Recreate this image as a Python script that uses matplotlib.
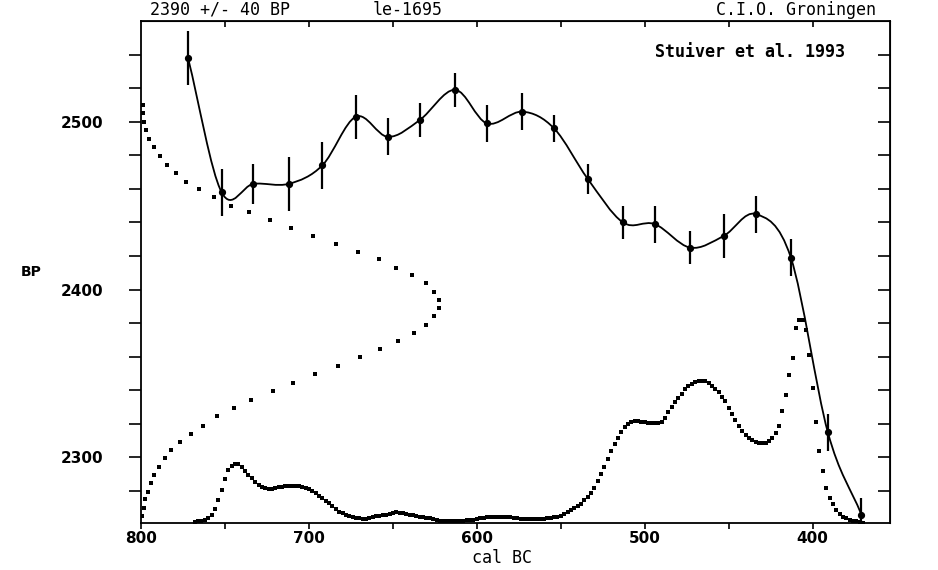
import numpy as np
import matplotlib.pyplot as plt
from matplotlib.path import Path
from matplotlib.patches import PathPatch
from matplotlib.ticker import NullFormatter

# calibration curve points (Stuiver et al. 1993)
cal_bc = [772, 752, 733, 712, 692, 672, 653, 634, 613, 594, 573,
          554, 534, 513, 494, 473, 453, 434, 413, 391, 371]
bp_age = [2538, 2458, 2463, 2463, 2474, 2503, 2491, 2501, 2519, 2499, 2506,
          2496, 2466, 2440, 2439, 2425, 2432, 2445, 2419, 2315, 2266]
bp_err = [16, 14, 12, 16, 14, 13, 11, 10, 10, 11, 11,
          8, 9, 10, 11, 10, 13, 11, 11, 11, 10]

# measured date 2390 +/- 40 BP, dotted distribution along the BP axis (relative units)
gauss_bp = [2510, 2505, 2500, 2495, 2490, 2485, 2479.5, 2474.5, 2469.5, 2464,
            2460, 2455, 2450, 2446, 2441.5, 2436.5, 2432, 2427, 2422.5, 2418,
            2413, 2408.5, 2404, 2398.5, 2394, 2389, 2384, 2379, 2374, 2369.5,
            2364.5, 2360, 2354.5, 2349.5, 2344.5, 2339.5, 2334.5, 2329.5, 2324.5, 2319,
            2314, 2309.5, 2304.5, 2299.5, 2294.5, 2289.5, 2285, 2279.5, 2275, 2270, 2265]
gauss_prob = [2, 2.5, 3, 5.5, 8.5, 13.5, 19.5, 26.5, 35, 45.5,
              58, 73, 90, 108, 129, 150.5, 172.5, 195, 217.5, 238.5,
              255.5, 271.5, 285, 293.5, 298.5, 298.5, 293.5, 285.5, 273, 257.5,
              239, 219, 197.5, 174, 152.5, 132.5, 110.5, 93.5, 76.5, 62.5,
              50, 39, 30.5, 24, 18, 13, 10, 7.5, 4, 3, 1.5]

# calibrated distribution along the cal BC axis (relative units)
cal_years = [768, 766, 764, 762, 760, 758, 756, 754, 752, 750,
             748, 746, 744, 742, 740, 738, 736, 734, 732, 730,
             728, 726, 724, 722, 720, 718, 716, 714, 712, 710,
             708, 706, 704, 702, 700, 698, 696, 694, 692, 690,
             688, 686, 684, 682, 680, 678, 676, 674, 672, 670,
             668, 666, 664, 662, 660, 658, 656, 654, 652, 650,
             648, 646, 644, 642, 640, 638, 636, 634, 632, 630,
             628, 626, 624, 622, 620, 618, 616, 614, 612, 610,
             608, 606, 604, 602, 600, 598, 596, 594, 592, 590,
             588, 586, 584, 582, 580, 578, 576, 574, 572, 570,
             568, 566, 564, 562, 560, 558, 556, 554, 552, 550,
             548, 546, 544, 542, 540, 538, 536, 534, 532, 530,
             528, 526, 524, 522, 520, 518, 516, 514, 512, 510,
             508, 506, 504, 502, 500, 498, 496, 494, 492, 490,
             488, 486, 484, 482, 480, 478, 476, 474, 472, 470,
             468, 466, 464, 462, 460, 458, 456, 454, 452, 450,
             448, 446, 444, 442, 440, 438, 436, 434, 432, 430,
             428, 426, 424, 422, 420, 418, 416, 414, 412, 410,
             408, 406, 404, 402, 400, 398, 396, 394, 392, 390,
             388, 386, 384, 382, 380, 378, 376, 374, 372, 370]
cal_prob = [1, 2, 2, 3, 5, 8, 14, 23, 33, 44,
            53, 57, 59, 59, 56, 52, 48, 45, 41, 38,
            36, 35, 34, 34, 35, 36, 36, 37, 37, 37,
            37, 37, 36, 35, 34, 32, 30, 27, 25, 22,
            20, 17, 14, 11, 10, 8, 7, 6, 5, 5,
            4, 4, 5, 6, 7, 7, 8, 8, 9, 10,
            11, 10, 10, 9, 8, 8, 7, 6, 6, 5,
            5, 4, 3, 2, 2, 2, 2, 2, 2, 2,
            2, 3, 3, 3, 4, 5, 5, 6, 6, 6,
            6, 6, 6, 6, 6, 5, 5, 4, 4, 4,
            4, 4, 4, 4, 4, 5, 5, 6, 6, 7,
            9, 11, 13, 15, 17, 19, 23, 26, 30, 35,
            42, 49, 56, 64, 72, 79, 85, 91, 96, 99,
            101, 102, 102, 101, 101, 100, 100, 100, 100, 101,
            105, 111, 116, 121, 125, 129, 134, 137, 139, 141,
            142, 142, 142, 140, 137, 134, 131, 126, 122, 115,
            109, 103, 97, 92, 88, 85, 83, 81, 80, 80,
            80, 82, 85, 90, 97, 112, 128, 148, 165, 195,
            203, 203, 193, 168, 135, 101, 72, 52, 35, 25,
            19, 13, 9, 6, 5, 3, 2, 2, 1, 0]

x_major = [800, 700, 600, 500, 400]
x_minor = [750, 650, 550, 450]
y_major = [2300, 2400, 2500]
y_minor = [2280, 2320, 2340, 2360, 2380, 2420, 2440, 2460, 2480, 2520, 2540]


def smooth_path(xs, ys):
    # bezier curve through the points (catmull-rom tangents)
    pts = np.column_stack([xs, ys]).astype(float)
    tang = np.zeros_like(pts)
    tang[1:-1] = (pts[2:] - pts[:-2]) / 2
    tang[0] = pts[1] - pts[0]
    tang[-1] = pts[-1] - pts[-2]
    verts = [pts[0]]
    codes = [Path.MOVETO]
    for i in range(len(pts) - 1):
        verts += [pts[i] + tang[i] / 3, pts[i + 1] - tang[i + 1] / 3, pts[i + 1]]
        codes += [Path.CURVE4] * 3
    return Path(verts, codes)


fig = plt.figure(figsize=(9.38, 5.70), dpi=100)
ax = fig.add_axes([0.1503, 0.0825, 0.7985, 0.8807])
ax.set_xlim(800, 354)
ax.set_ylim(2261, 2560)

# distributions on twin axes (relative probability)
ax_bp = ax.twiny()
ax_bp.set_xlim(0, 749)
ax_bp.plot(gauss_prob, gauss_bp, 's', color='black', ms=2.4, mew=0)
ax_bp.axis('off')

ax_cal = ax.twinx()
ax_cal.set_ylim(0, 502)
ax_cal.plot(cal_years, cal_prob, 's', color='black', ms=2.4, mew=0)
ax_cal.axis('off')

# calibration curve
ax.add_patch(PathPatch(smooth_path(cal_bc, bp_age), fill=False, color='black', lw=1.3, zorder=3))
ax.errorbar(cal_bc, bp_age, yerr=bp_err, fmt='o', color='black', ms=4.2,
            elinewidth=1.6, capsize=0, zorder=4)
ax.set_zorder(3)
ax.patch.set_visible(False)

for s in ax.spines.values():
    s.set_linewidth(1.3)

ax.set_xticks(x_major)
ax.set_xticks(x_minor, minor=True)
ax.set_yticks(y_major)
ax.set_yticks(y_minor, minor=True)
ax.tick_params(axis='x', which='both', direction='out', length=4, width=1.2, top=False, pad=2, labelsize=11)
ax.tick_params(axis='y', which='both', direction='out', length=9, width=1.2, right=False, pad=18, labelsize=11)
for lbl in ax.get_xticklabels() + ax.get_yticklabels():
    lbl.set_fontweight('bold')

top = ax.secondary_xaxis('top')
top.set_xticks(x_minor + [700, 600, 500, 400])
top.tick_params(direction='in', length=4, width=1.2)
top.xaxis.set_major_formatter(NullFormatter())

right = ax.secondary_yaxis('right')
right.set_yticks(sorted(y_major + y_minor))
right.tick_params(direction='in', length=9, width=1.2)
right.yaxis.set_major_formatter(NullFormatter())

mono = 'DejaVu Sans Mono'
fig.text(0.2345, 0.983, '2390 +/- 40 BP', family=mono, fontsize=12, ha='center', va='center')
fig.text(0.435, 0.983, 'le-1695', family=mono, fontsize=12, ha='center', va='center')
fig.text(0.849, 0.983, 'C.I.O. Groningen', family=mono, fontsize=12, ha='center', va='center')
fig.text(0.7996, 0.9088, 'Stuiver et al. 1993', family=mono, fontsize=12, fontweight='bold',
         ha='center', va='center')
fig.text(0.535, 0.021, 'cal BC', family=mono, fontsize=12, ha='center', va='center')
fig.text(0.033, 0.523, 'BP', fontsize=10, fontweight='bold', ha='center', va='center')

fig.savefig('out.png', dpi=100)
